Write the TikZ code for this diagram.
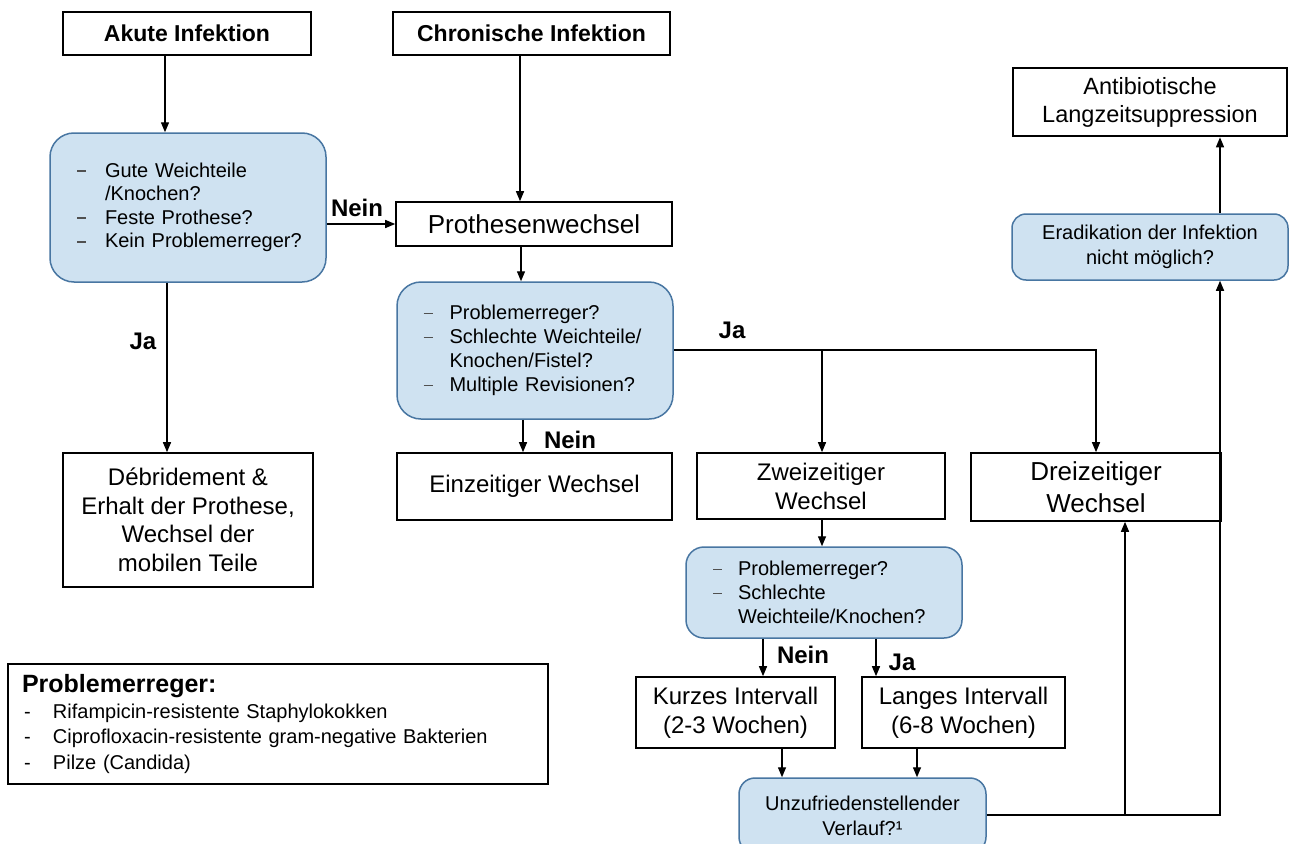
\documentclass[tikz,border=0pt]{standalone}
\usepackage{fontspec}
\setmainfont{Liberation Sans}
\usetikzlibrary{arrows.meta,calc}
\definecolor{bfill}{RGB}{207,226,241}
\definecolor{bdraw}{RGB}{72,118,162}
\definecolor{dashgrey}{RGB}{80,80,80}
\newcommand\fsz[2]{\fontsize{#1}{#2}\selectfont}
\newcommand\dsh[1]{\makebox[#1][l]{\hspace{3pt}\textcolor{dashgrey}{\rule[0.27em]{0.45em}{0.08em}}}}
\newcommand\ind[1]{\hspace*{#1}}
\begin{document}
\begin{tikzpicture}[x=1pt,y=-1pt,
  box/.style={draw=black, line width=1.6pt, fill=white, inner sep=0pt, align=center, font=\fsz{24}{29}},
  bluebox/.style={draw=bdraw, line width=1.5pt, fill=bfill, rounded corners=24pt, inner sep=0pt},
  lab/.style={font=\bfseries\fsz{24}{28}},
  conn/.style={line width=1.4pt, -{Triangle[length=10pt,width=8pt]}},
  plain/.style={line width=1.4pt}]
\clip (0,0) rectangle (1289,843);
\fill[white] (0,0) rectangle (1289,843);

% top boxes
\node[box, minimum width=248pt, minimum height=43pt, font=\bfseries\fsz{23}{28}] (akute) at (187,33.5) {Akute Infektion};
\node[box, minimum width=277pt, minimum height=43pt, font=\bfseries\fsz{23}{28}] (chron) at (531.5,33.5) {Chronische Infektion};

% blue 1
\node[bluebox, minimum width=276pt, minimum height=149pt, text width=228pt, inner xsep=24pt, align=left, font=\fsz{20}{23.5}] (blue1) at (188,207.5)
 {\dsh{31pt}Gute Weichteile\\ \ind{31pt}/Knochen?\\ \dsh{31pt}Feste Prothese?\\ \dsh{31pt}Kein Problemerreger?};

\node[box, minimum width=276pt, minimum height=44pt, font=\fsz{26}{31}] (prot) at (534,224) {Prothesenwechsel};

% blue 2
\node[bluebox, minimum width=276pt, minimum height=137pt, text width=229pt, inner xsep=23.5pt, align=left, font=\fsz{20}{24}] (blue2) at (535,350.5)
 {\dsh{29pt}Problemerreger?\\ \dsh{29pt}Schlechte Weichteile/\\ \ind{29pt}Knochen/Fistel?\\ \dsh{29pt}Multiple Revisionen?};

\node[box, minimum width=275pt, minimum height=67pt] (einz) at (534.5,486.5) {Einzeitiger Wechsel};
\node[box, minimum width=248pt, minimum height=66pt] (zwei) at (821,486) {Zweizeitiger\\Wechsel};
\node[box, minimum width=250pt, minimum height=68pt, font=\fsz{26}{32}] (drei) at (1096,487) {Dreizeitiger\\Wechsel};
\node[box, minimum width=250pt, minimum height=134pt, font=\fsz{24}{28.5}] (debr) at (188,520) {Débridement \&\\Erhalt der Prothese,\\Wechsel der\\mobilen Teile};

% blue 3
\node[bluebox, rounded corners=18pt, minimum width=276pt, minimum height=91pt, text width=228pt, inner xsep=24pt, align=left, font=\fsz{20}{24}] (blue3) at (824,592.5)
 {\dsh{28pt}Problemerreger?\\ \dsh{28pt}Schlechte\\ \ind{28pt}Weichteile/Knochen?};

\node[box, minimum width=199pt, minimum height=71pt] (kurz) at (735.5,712.5) {Kurzes Intervall\\(2-3 Wochen)};
\node[box, minimum width=203pt, minimum height=71pt] (lang) at (963.5,712.5) {Langes Intervall\\(6-8 Wochen)};

% blue 4
\node[bluebox, rounded corners=16pt, minimum width=247pt, minimum height=75pt, align=center, font=\fsz{20}{25}] (blue4) at (862.5,815.5) {Unzufriedenstellender\\Verlauf?¹};

% right side
\node[bluebox, rounded corners=14pt, minimum width=276pt, minimum height=66pt, align=center, font=\fsz{20}{25}] (erad) at (1150,247) {Eradikation der Infektion\\nicht möglich?};
\node[box, line width=2.6pt, minimum width=274pt, minimum height=68pt, font=\fsz{23.5}{28}] (anti) at (1150,102) {Antibiotische\\Langzeitsuppression};

% legend
\node[draw=black, line width=1.4pt, fill=white, minimum width=540pt, minimum height=120pt, text width=512pt, inner xsep=14pt, inner ysep=0pt, align=left, font=\fsz{20}{25.5}] (legend) at (278,724)
 {{\bfseries\fsz{25}{29}Problemerreger:}\\
 \makebox[31pt][l]{\hspace{2pt}-}Rifampicin-resistente Staphylokokken\\
 \makebox[31pt][l]{\hspace{2pt}-}Ciprofloxacin-resistente gram-negative Bakterien\\
 \makebox[31pt][l]{\hspace{2pt}-}Pilze (Candida)};

% coordinates for off-centre connectors
\coordinate (xa) at (165,0);
\coordinate (xb) at (167,0);
\coordinate (xc) at (520,0);
\coordinate (xd) at (521,0);
\coordinate (xe) at (523,0);
\coordinate (xf) at (822,0);
\coordinate (xg) at (1096,0);
\coordinate (xh) at (763,0);
\coordinate (xi) at (876,0);
\coordinate (xj) at (782,0);
\coordinate (xk) at (917,0);
\coordinate (xl) at (1125,0);
\coordinate (xm) at (1220,0);
\coordinate (yj) at (0,350);
\coordinate (yr) at (0,815);

% connectors
\draw[conn] (akute.south -| xa) -- (blue1.north -| xa);
\draw[conn] (blue1.south -| xb) -- (debr.north -| xb);
\draw[conn] (prot.west -| blue1.east) -- (prot.west);
\draw[conn] (chron.south -| xc) -- (prot.north -| xc);
\draw[conn] (prot.south -| xd) -- (blue2.north -| xd);
\draw[conn] (blue2.south -| xe) -- (einz.north -| xe);
\draw[conn] (blue2.east |- yj) -- (xg |- yj) -- (drei.north -| xg);
\draw[conn] (xf |- yj) -- (zwei.north -| xf);
\draw[conn] (zwei.south -| xf) -- (blue3.north -| xf);
\draw[conn] (blue3.south -| xh) -- (kurz.north -| xh);
\draw[conn] (blue3.south -| xi) -- (lang.north -| xi);
\draw[conn] (kurz.south -| xj) -- (blue4.north -| xj);
\draw[conn] (lang.south -| xk) -- (blue4.north -| xk);
\draw[conn] (blue4.east |- yr) -- (xm |- yr) -- (erad.south -| xm);
\draw[conn] (xl |- yr) -- (drei.south -| xl);
\draw[conn] (erad.north -| xm) -- (anti.south -| xm);

% labels
\node[lab] (nein1) at (357,208) {Nein};
\node[lab] (ja1) at (143,341) {Ja};
\node[lab] (ja2) at (732,330) {Ja};
\node[lab] (nein2) at (570,440) {Nein};
\node[lab] (nein3) at (803,655) {Nein};
\node[lab] (ja3) at (902,662) {Ja};
\end{tikzpicture}
\end{document}
